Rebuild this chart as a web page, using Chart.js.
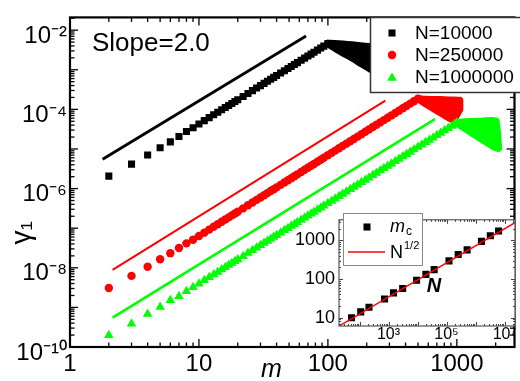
<!DOCTYPE html>
<html><head><meta charset="utf-8">
<script src="https://cdn.jsdelivr.net/npm/chart.js@4.4.1/dist/chart.umd.min.js"></script>
<style>
html,body{margin:0;padding:0;background:#fff;width:520px;height:381px;overflow:hidden}
#wrap{position:relative;width:520px;height:381px}
#main{position:absolute;left:0;top:0}
#inset{position:absolute;left:288px;top:205px}
</style></head><body>
<div id="wrap"><canvas id="main" width="520" height="381"></canvas><canvas id="inset" width="232" height="150"></canvas></div>
<script>
// ---------- data ----------
const mBlack = [2,3,4,5,6,7,8,9,10,11,12,13,14,15,16,17,18,19,20,22,24,26,28,30,32,34,36,38,40,43,46,49,52,55,58,62,66,70,74,78,83,88,93,100];
const gBlack = [2.06e-6,4.14e-6,7.03e-6,1.07e-5,1.51e-5,2.07e-5,2.75e-5,3.45e-5,4.28e-5,5.19e-5,6.19e-5,7.28e-5,8.47e-5,9.74e-5,1.11e-4,1.256e-4,1.41e-4,1.573e-4,1.746e-4,2.118e-4,2.528e-4,2.973e-4,3.457e-4,3.977e-4,4.53e-4,5.13e-4,5.76e-4,6.43e-4,7.13e-4,8.26e-4,9.47e-4,1.076e-3,1.215e-3,1.361e-3,1.516e-3,1.736e-3,1.971e-3,2.221e-3,2.486e-3,2.766e-3,3.138e-3,3.534e-3,3.954e-3,4.58e-3];
// scattered region beyond the peak: upper envelope, then lower envelope back
const mBlackEdge = [100,104,112,121,131,141,153,165,179,193,207,214,214,200,186,172,159,147,136,126,116,108,100];
const gBlackEdge = [4.58e-3,4.6e-3,4.55e-3,4.5e-3,4.4e-3,4.3e-3,4.2e-3,4.1e-3,4.0e-3,3.9e-3,3.8e-3,3.7e-3,1.05e-3,1.2e-3,1.37e-3,1.6e-3,1.9e-3,2.2e-3,2.5e-3,2.9e-3,3.4e-3,3.9e-3,4.58e-3];

const mRed = [2,3,4,5,6,7,8,9,10,11,12,13,14,15,16,17,18,19,20,22,24,26,28,30,32,34,36,38,40,43,46,49,52,55,58,62,66,70,74,78,83,88,93,100,107,114,122,130,139,149,159,170,182,195,208,223,238,255,272,291,311,333,356,381,407,435,465,500];
const gRed = [3.08e-9,6.24e-9,1.06e-8,1.64e-8,2.34e-8,3.17e-8,4.14e-8,5.12e-8,6.34e-8,7.71e-8,9.2e-8,1.083e-7,1.26e-7,1.451e-7,1.655e-7,1.872e-7,2.104e-7,2.35e-7,2.609e-7,3.168e-7,3.784e-7,4.457e-7,5.185e-7,5.967e-7,6.81e-7,7.7e-7,8.66e-7,9.66e-7,1.073e-6,1.244e-6,1.427e-6,1.623e-6,1.833e-6,2.055e-6,2.29e-6,2.624e-6,2.979e-6,3.36e-6,3.763e-6,4.192e-6,4.758e-6,5.36e-6,6.0e-6,6.96e-6,7.99e-6,9.09e-6,1.044e-5,1.188e-5,1.362e-5,1.57e-5,1.792e-5,2.053e-5,2.36e-5,2.716e-5,3.099e-5,3.573e-5,4.079e-5,4.694e-5,5.358e-5,6.149e-5,7.04e-5,8.09e-5,9.27e-5,1.065e-4,1.219e-4,1.396e-4,1.6e-4,1.855e-4];
const mRedEdge = [500,540,585,632,684,740,801,866,937,1014,1050,1050,975,901,833,770,712,658,608,562,520,500];
const gRedEdge = [1.855e-4,1.8e-4,1.78e-4,1.76e-4,1.75e-4,1.74e-4,1.72e-4,1.7e-4,1.7e-4,1.68e-4,1.68e-4,1.0e-4,6.5e-5,5.75e-5,6.7e-5,7.8e-5,9.1e-5,1.06e-4,1.25e-4,1.45e-4,1.73e-4,1.855e-4];

const mGreen = [2,3,4,5,6,7,8,9,10,11,12,13,14,15,16,17,18,19,20,22,24,26,28,30,32,34,36,38,40,43,46,49,52,55,58,62,66,70,74,78,83,88,93,100,107,114,122,130,139,149,159,170,182,195,208,223,238,255,272,291,311,333,356,381,407,435,465,500,535,572,612,655,700,749,801,857,916,960,1000];
const gGreen = [1.98e-10,3.85e-10,6.79e-10,1.03e-9,1.51e-9,1.92e-9,2.55e-9,3.21e-9,3.98e-9,4.83e-9,5.76e-9,6.77e-9,7.88e-9,9.06e-9,1.032e-8,1.168e-8,1.311e-8,1.463e-8,1.624e-8,1.97e-8,2.351e-8,2.765e-8,3.215e-8,3.699e-8,4.21e-8,4.77e-8,5.36e-8,5.98e-8,6.63e-8,7.68e-8,8.81e-8,1.001e-7,1.13e-7,1.266e-7,1.41e-7,1.614e-7,1.833e-7,2.066e-7,2.312e-7,2.572e-7,2.918e-7,3.287e-7,3.677e-7,4.26e-7,4.89e-7,5.56e-7,6.38e-7,7.26e-7,8.31e-7,9.57e-7,1.092e-6,1.251e-6,1.438e-6,1.653e-6,1.885e-6,2.171e-6,2.477e-6,2.848e-6,3.249e-6,3.725e-6,4.265e-6,4.896e-6,5.61e-6,6.44e-6,7.36e-6,8.43e-6,9.65e-6,1.118e-5,1.283e-5,1.469e-5,1.685e-5,1.934e-5,2.213e-5,2.539e-5,2.909e-5,3.339e-5,3.82e-5,4.202e-5,4.566e-5];
const mGreenEdge = [1000,1080,1170,1260,1360,1470,1590,1720,1860,2010,2060,2100,1930,1790,1650,1530,1420,1310,1210,1120,1040,1000];
const gGreenEdge = [4.566e-5,4.7e-5,4.8e-5,4.85e-5,4.9e-5,4.95e-5,5.0e-5,5.1e-5,5.15e-5,5.0e-5,2.5e-5,1.05e-5,1.15e-5,1.34e-5,1.58e-5,1.86e-5,2.17e-5,2.57e-5,3.03e-5,3.56e-5,4.17e-5,4.566e-5];

// slope-2 guide lines (end points)
const lineBlackM = [1.79, 67.7], lineBlackG = [5.5e-6, 7.1e-3];
const lineRedM = [2.14, 279], lineRedG = [8.9e-9, 1.67e-4];
const lineGreenM = [2.14, 677], lineGreenG = [5.5e-10, 5.66e-5];

const seriesLabels = ['N=10000', 'N=250000', 'N=1000000'];
const xTickValues = [1, 10, 100, 1000];
const xTickLabels = ['1', '10', '100', '1000'];
const yTickValues = [1e-10, 1e-8, 1e-6, 1e-4, 1e-2];
const yTickLabels = ['10\u207B\u00B9\u2070', '10\u207B\u2078', '10\u207B\u2076', '10\u207B\u2074', '10\u207B\u00B2'];

// inset: m_c versus N
const insetN  = [53, 110, 212, 730, 1482, 3083, 9290, 19450, 37400, 121700, 253000, 514000, 1.6e6, 3.24e6, 6.24e6];
const insetMc = [9.84, 14.0, 18.5, 30.2, 43.7, 57.0, 92.9, 132, 175, 296, 431, 570, 946, 1325, 1754];
const insetLineN = [19.6, 2.3e7], insetLineMc = [6.03, 2900];
const insetXTickValues = [1e3, 1e5, 1e7];
const insetXTickLabels = ['10\u00B3', '10\u2075', '10\u2077'];
const insetYTickValues = [10, 100, 1000];
const insetYTickLabels = ['10', '100', '1000'];

// ---------- helpers ----------
const FONT = '"Liberation Sans", Arial, Helvetica, sans-serif';
const GREEN = '#00ff00', RED = '#ff0000', BLACK = '#000000';
const toXY = (xs, ys) => xs.map((x, i) => ({x, y: ys[i]}));
function logTickList(min, max) {
  const out = [];
  const e0 = Math.floor(Math.log10(min) - 1e-9), e1 = Math.ceil(Math.log10(max) + 1e-9);
  for (let e = e0; e <= e1; e++) for (let k = 1; k <= 9; k++) {
    const v = k * Math.pow(10, e);
    if (v >= min * 0.9999 && v <= max * 1.0001) out.push({v, major: k === 1});
  }
  return out;
}
function seg(ctx, x1, y1, x2, y2) { ctx.beginPath(); ctx.moveTo(x1, y1); ctx.lineTo(x2, y2); ctx.stroke(); }
function marker(ctx, style, x, y, r, color) {
  ctx.fillStyle = color; ctx.beginPath();
  if (style === 'rect') { const h = r * Math.SQRT1_2; ctx.rect(x - h, y - h, 2 * h, 2 * h); }
  else if (style === 'circle') { ctx.arc(x, y, r, 0, Math.PI * 2); }
  else { ctx.moveTo(x, y - r); ctx.lineTo(x + r * 0.866, y + r / 2); ctx.lineTo(x - r * 0.866, y + r / 2); ctx.closePath(); }
  ctx.fill();
}

// fills the region enclosed by an envelope dataset (points placed by the chart's scales)
const envelopeFill = {
  id: 'envelopeFill',
  beforeDatasetDraw(chart, args) {
    const ds = chart.data.datasets[args.index];
    if (!ds.envelope) return;
    const pts = args.meta.data;
    const {ctx, chartArea: a} = chart;
    ctx.save();
    ctx.beginPath(); ctx.rect(a.left, a.top, a.right - a.left, a.bottom - a.top); ctx.clip();
    ctx.beginPath();
    pts.forEach((p, i) => i ? ctx.lineTo(p.x, p.y) : ctx.moveTo(p.x, p.y));
    ctx.closePath();
    ctx.fillStyle = ds.backgroundColor; ctx.fill();
    ctx.restore();
  }
};

const mainDecor = {
  id: 'mainDecor',
  afterDatasetsDraw(chart) {
    const {ctx, chartArea: a, scales: {x, y}} = chart;
    ctx.save();
    ctx.strokeStyle = '#000'; ctx.lineWidth = 1.3;
    logTickList(x.min, x.max).forEach(t => {
      const p = x.getPixelForValue(t.v), L = t.major ? 8 : 4.5;
      seg(ctx, p, a.bottom, p, a.bottom - L); seg(ctx, p, a.top, p, a.top + L);
    });
    logTickList(y.min, y.max).forEach(t => {
      const p = y.getPixelForValue(t.v), L = t.major ? 8 : 4.5;
      seg(ctx, a.left, p, a.left + L, p); seg(ctx, a.right, p, a.right - L, p);
    });
    ctx.lineWidth = 2.2;
    ctx.strokeRect(a.left, a.top, a.right - a.left, a.bottom - a.top);
    // legend
    ctx.fillStyle = '#fff'; ctx.fillRect(370, 17, 160, 75);
    ctx.strokeStyle = '#333'; ctx.lineWidth = 1.5; ctx.strokeRect(370.5, 17.5, 160, 75);
    const styles = [['rect', 5, BLACK], ['circle', 4.2, RED], ['triangle', 5.5, GREEN]];
    const rows = [33, 55, 77];
    ctx.font = '19px ' + FONT; ctx.textBaseline = 'middle'; ctx.textAlign = 'left';
    styles.forEach((s, i) => {
      marker(ctx, s[0], 392, rows[i] + (s[0] === 'triangle' ? 1 : 0), s[1], s[2]);
      ctx.fillStyle = '#000'; ctx.fillText(seriesLabels[i], 415, rows[i] + 1);
    });
    // annotation
    ctx.font = '26px ' + FONT; ctx.textBaseline = 'alphabetic'; ctx.fillStyle = '#000';
    ctx.fillText('Slope=2.0', 92, 51);
    ctx.restore();
  }
};

const envStyle = (c) => ({envelope: true, showLine: true, borderColor: c, backgroundColor: c, borderWidth: 7.5, borderJoinStyle: 'round', borderCapStyle: 'round', pointRadius: 0});

new Chart(document.getElementById('main'), {
  type: 'scatter',
  data: { datasets: [
    Object.assign({label: 'N=1000000 scatter', data: toXY(mGreenEdge, gGreenEdge)}, envStyle(GREEN)),
    {label: 'N=1000000', data: toXY(mGreen, gGreen), pointStyle: 'triangle', pointRadius: 5.5, backgroundColor: GREEN, borderWidth: 0},
    Object.assign({label: 'N=250000 scatter', data: toXY(mRedEdge, gRedEdge)}, envStyle(RED)),
    {label: 'N=250000', data: toXY(mRed, gRed), pointStyle: 'circle', pointRadius: 4.2, backgroundColor: RED, borderWidth: 0},
    Object.assign({label: 'N=10000 scatter', data: toXY(mBlackEdge, gBlackEdge)}, envStyle(BLACK)),
    {label: 'N=10000', data: toXY(mBlack, gBlack), pointStyle: 'rect', pointRadius: 5, backgroundColor: BLACK, borderWidth: 0},
    {label: 'slope black', data: toXY(lineBlackM, lineBlackG), showLine: true, borderColor: BLACK, borderWidth: 2.8, pointRadius: 0},
    {label: 'slope red', data: toXY(lineRedM, lineRedG), showLine: true, borderColor: RED, borderWidth: 2, pointRadius: 0},
    {label: 'slope green', data: toXY(lineGreenM, lineGreenG), showLine: true, borderColor: GREEN, borderWidth: 2.6, pointRadius: 0}
  ]},
  options: {
    responsive: false, animation: false, devicePixelRatio: 1,
    layout: {padding: {top: 10, right: 1, left: 0, bottom: 0}},
    plugins: {legend: {display: false}, tooltip: {enabled: false}},
    scales: {
      x: {
        type: 'logarithmic', min: 1, max: 2800,
        afterFit(s) { s.height = 34; },
        afterBuildTicks(s) { s.ticks = xTickValues.map(v => ({value: v})); },
        ticks: {autoSkip: false, maxRotation: 0, padding: 3, color: '#000', font: {family: FONT, size: 24},
          callback: (v, i) => xTickLabels[i]},
        grid: {display: false, drawTicks: false}, border: {display: false},
        title: {display: true, text: 'm      ', color: '#000', font: {family: FONT, size: 25, style: 'italic', lineHeight: 1.2}, padding: {top: 0, bottom: -4}}
      },
      y: {
        type: 'logarithmic', min: 1e-10, max: 0.021,
        afterFit(s) { s.width = 70; },
        afterBuildTicks(s) { s.ticks = yTickValues.map(v => ({value: v})); },
        ticks: {autoSkip: false, padding: 3, labelOffset: 6, color: '#000', font: {family: FONT, size: 24},
          callback: (v, i) => yTickLabels[i]},
        grid: {display: false, drawTicks: false}, border: {display: false},
        title: {display: true, text: '\u03B3\u2081             ', color: '#000', font: {family: FONT, size: 28, lineHeight: 1}, padding: {top: 8, bottom: 0}}
      }
    }
  },
  plugins: [envelopeFill, mainDecor]
});

// ---------- inset ----------
const insetDecor = {
  id: 'insetDecor',
  beforeDatasetsDraw(chart) {
    const {ctx, chartArea: a} = chart;
    ctx.save(); ctx.fillStyle = '#fff'; ctx.fillRect(a.left, a.top, a.right - a.left, a.bottom - a.top); ctx.restore();
  },
  afterDatasetsDraw(chart) {
    const {ctx, chartArea: a, scales: {x, y}} = chart;
    ctx.save();
    ctx.strokeStyle = '#444'; ctx.lineWidth = 1;
    logTickList(x.min, x.max).forEach(t => {
      const p = Math.round(x.getPixelForValue(t.v)) + 0.5, L = t.major ? 4 : 2;
      seg(ctx, p, a.bottom, p, a.bottom - L); seg(ctx, p, a.top, p, a.top + L);
    });
    logTickList(y.min, y.max).forEach(t => {
      const p = Math.round(y.getPixelForValue(t.v)) + 0.5, L = t.major ? 4 : 2;
      seg(ctx, a.left, p, a.left + L, p); seg(ctx, a.right, p, a.right - L, p);
    });
    ctx.strokeStyle = '#555'; ctx.lineWidth = 1.2;
    ctx.strokeRect(a.left, a.top, a.right - a.left, a.bottom - a.top);
    // legend
    ctx.fillStyle = '#fff'; ctx.fillRect(55, 8, 79, 52);
    ctx.strokeStyle = '#888'; ctx.lineWidth = 1; ctx.strokeRect(55.5, 8.5, 79, 52);
    marker(ctx, 'rect', 79, 22, 5, '#000');
    ctx.strokeStyle = RED; ctx.lineWidth = 1.5; seg(ctx, 60, 47, 97, 47);
    ctx.fillStyle = '#000'; ctx.textBaseline = 'middle'; ctx.textAlign = 'left';
    ctx.font = 'italic 18px ' + FONT; ctx.fillText('m', 102, 22);
    let w = ctx.measureText('m').width;
    ctx.font = '12px ' + FONT; ctx.fillText('c', 102 + w + 1, 27);
    ctx.font = '18px ' + FONT; ctx.fillText('N', 102, 48);
    w = ctx.measureText('N').width;
    ctx.font = '11px ' + FONT; ctx.fillText('1/2', 102 + w + 1, 41);
    // axis name inside the plot
    ctx.font = 'italic bold 20px ' + FONT; ctx.textAlign = 'center';
    ctx.fillText('N', 146, 81);
    ctx.restore();
  }
};

new Chart(document.getElementById('inset'), {
  type: 'scatter',
  data: { datasets: [
    {label: 'N^1/2', data: toXY(insetLineN, insetLineMc), showLine: true, borderColor: RED, borderWidth: 1.5, pointRadius: 0},
    {label: 'm_c', data: toXY(insetN, insetMc), pointStyle: 'rect', pointRadius: 5, backgroundColor: '#000', borderWidth: 0}
  ]},
  options: {
    responsive: false, animation: false, devicePixelRatio: 1,
    layout: {padding: {top: 8, right: 3, left: 0, bottom: 0}},
    plugins: {legend: {display: false}, tooltip: {enabled: false}},
    scales: {
      x: {
        type: 'logarithmic', min: 19.6, max: 2.3e7,
        afterFit(s) { s.height = 29; },
        afterBuildTicks(s) { s.ticks = insetXTickValues.map(v => ({value: v})); },
        ticks: {autoSkip: false, maxRotation: 0, padding: -1.5, color: '#000', font: {family: FONT, size: 16},
          callback: (v, i) => insetXTickLabels[i]},
        grid: {display: false, drawTicks: false}, border: {display: false}
      },
      y: {
        type: 'logarithmic', min: 6.03, max: 3440,
        afterFit(s) { s.width = 51; },
        afterBuildTicks(s) { s.ticks = insetYTickValues.map(v => ({value: v})); },
        ticks: {autoSkip: false, padding: 4, color: '#000', font: {family: FONT, size: 18},
          callback: (v, i) => insetYTickLabels[i]},
        grid: {display: false, drawTicks: false}, border: {display: false}
      }
    }
  },
  plugins: [insetDecor]
});
</script>
</body></html>
